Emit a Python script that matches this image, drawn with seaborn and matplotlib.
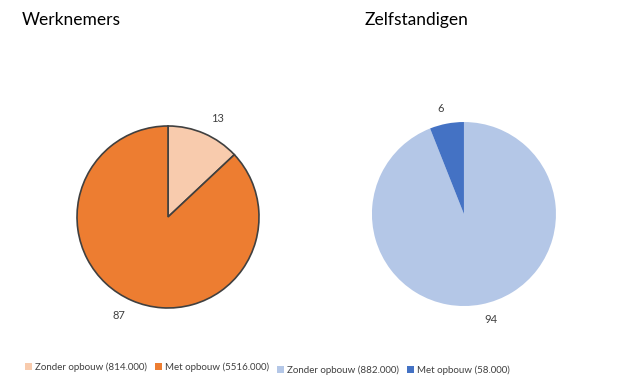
import matplotlib
matplotlib.use("Agg")
import matplotlib.pyplot as plt
from matplotlib.patches import Patch
import seaborn as sns

# data
labels_wn = ["Zonder opbouw (814.000)", "Met opbouw (5516.000)"]
values_wn = [13, 87]
colors_wn = ["#F8CBAD", "#ED7D31"]

labels_zz = ["Zonder opbouw (882.000)", "Met opbouw (58.000)"]
values_zz = [94, 6]
colors_zz = ["#B4C7E7", "#4472C4"]

sns.set_theme(style="white")
plt.rcParams["font.family"] = ["Lato", "DejaVu Sans"]

fig = plt.figure(figsize=(6.22, 3.88), dpi=100)
fig.patch.set_facecolor("white")

# Werknemers pie
ax1 = fig.add_axes([0.0872, 0.1476, 0.3658, 0.5863])
ax1.pie(values_wn, colors=colors_wn, labels=[str(v) for v in values_wn],
        startangle=90, counterclock=False, labeldistance=1.18,
        wedgeprops=dict(edgecolor="#404040", linewidth=1.2),
        textprops=dict(color="#404040", fontsize=8))
ax1.set_xlim(-1.25, 1.25)
ax1.set_ylim(-1.25, 1.25)
ax1.set_aspect("equal")

# Zelfstandigen pie
ax2 = fig.add_axes([0.561, 0.152, 0.3698, 0.5928])
ax2.pie(values_zz, colors=colors_zz, labels=[str(v) for v in values_zz],
        startangle=90, counterclock=False, labeldistance=1.17,
        wedgeprops=dict(linewidth=0),
        textprops=dict(color="#404040", fontsize=8))
ax2.set_xlim(-1.25, 1.25)
ax2.set_ylim(-1.25, 1.25)
ax2.set_aspect("equal")

fig.text(22 / 622, 1 - 20 / 388, "Werknemers", fontsize=12.5, color="black", va="center", ha="left")
fig.text(365 / 622, 1 - 20 / 388, "Zelfstandigen", fontsize=12.5, color="black", va="center", ha="left")

leg_kw = dict(frameon=False, ncol=2, fontsize=7, handlelength=0.7, handleheight=0.7,
              handletextpad=0.3, columnspacing=0.9, labelcolor="#404040",
              borderpad=0, borderaxespad=0, loc="center left")
h1 = [Patch(facecolor=c, edgecolor="none") for c in colors_wn]
h2 = [Patch(facecolor=c, edgecolor="none") for c in colors_zz]
fig.legend(h1, labels_wn, bbox_to_anchor=(25 / 622, 1 - 367 / 388), **leg_kw)
fig.legend(h2, labels_zz, bbox_to_anchor=(277 / 622, 1 - 370 / 388), **leg_kw)

fig.savefig("out.png", dpi=100, facecolor="white")
